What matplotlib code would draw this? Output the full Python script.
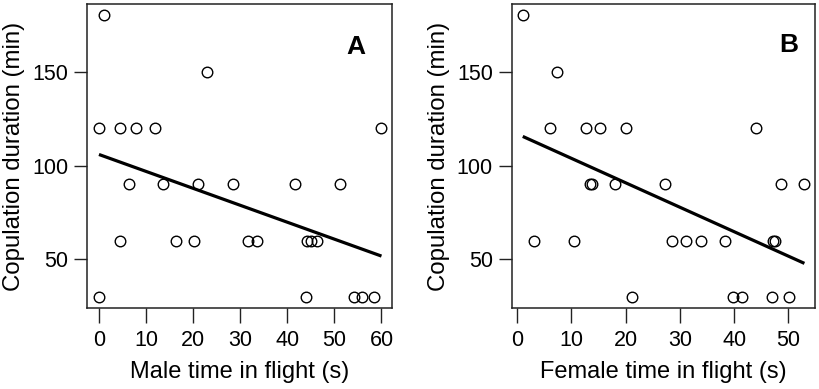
import numpy as np
import matplotlib
matplotlib.use("Agg")
import matplotlib.pyplot as plt

plt.rcParams['font.family'] = ['Liberation Sans', 'DejaVu Sans']

# Panel A: male time in flight (s) vs copulation duration (min)
male_x = [1, 22.9,
          0, 4.4, 7.8, 11.9, 60,
          6.3, 13.7, 21.1, 28.5, 41.7, 51.1,
          4.5, 16.4, 20.1, 31.7, 33.5, 44.2, 45.0, 46.4,
          0, 43.9, 54.1, 55.8, 58.5]
male_y = [180, 150,
          120, 120, 120, 120, 120,
          90, 90, 90, 90, 90, 90,
          60, 60, 60, 60, 60, 60, 60, 60,
          30, 30, 30, 30, 30]

# Panel B: female time in flight (s) vs copulation duration (min)
female_x = [1.04, 7.36,
            6.13, 12.76, 15.2, 20.1, 44.1,
            13.5, 13.87, 18.0, 27.2, 48.6, 52.95,
            3.07, 10.55, 28.5, 31.1, 33.9, 38.4, 47.2, 47.5,
            21.2, 39.8, 41.5, 47.06, 50.06]
female_y = [180, 150,
            120, 120, 120, 120, 120,
            90, 90, 90, 90, 90, 90,
            60, 60, 60, 60, 60, 60, 60, 60,
            30, 30, 30, 30, 30]

male_xticks = [0, 10, 20, 30, 40, 50, 60]
female_xticks = [0, 10, 20, 30, 40, 50]
yticks = [50, 100, 150]

W, H = 819, 389
fig = plt.figure(figsize=(W / 100, H / 100), dpi=100)

def px_axes(left, right, top, bottom):
    return fig.add_axes([left / W, (H - bottom) / H, (right - left) / W, (bottom - top) / H])

axA = px_axes(87.3, 392.3, 4, 308.3)
axB = px_axes(511.7, 815, 4, 308.3)

panels = [
    (axA, male_x, male_y, male_xticks, (-2.48, 62.3), "Male time in flight (s)", "A", (0.881, 0.860)),
    (axB, female_x, female_y, female_xticks, (-1.0, 54.9), "Female time in flight (s)", "B", (0.912, 0.865)),
]

for ax, xs, ys, xt, xl, xlabel, tag, tagpos in panels:
    xs = np.asarray(xs, float)
    ys = np.asarray(ys, float)
    ax.plot(xs, ys, linestyle='none', marker='o', markersize=7.6,
            markerfacecolor='none', markeredgecolor='black', markeredgewidth=1.0)
    slope, intercept = np.polyfit(xs, ys, 1)
    lx = np.array([xs.min(), xs.max()])
    ax.plot(lx, intercept + slope * lx, color='black', linewidth=2.3, solid_capstyle='butt')
    ax.set_xlim(*xl)
    ax.set_ylim(24, 186)
    ax.set_xticks(xt)
    ax.set_yticks(yticks)
    ax.tick_params(axis='both', direction='out', width=1.0,
                   labelsize=15.5, color='#222222')
    ax.tick_params(axis='x', length=10.5, pad=5)
    ax.tick_params(axis='y', length=9.5, pad=4)
    for sp in ax.spines.values():
        sp.set_linewidth(1.1)
        sp.set_color('#222222')
    ax.set_xlabel(xlabel, fontsize=17, labelpad=7)
    ax.set_ylabel("Copulation duration (min)", fontsize=17.3, labelpad=5)
    ax.text(tagpos[0], tagpos[1], tag, transform=ax.transAxes, fontsize=19,
            fontweight='bold', ha='center', va='center')

fig.savefig("out.png", dpi=100)
